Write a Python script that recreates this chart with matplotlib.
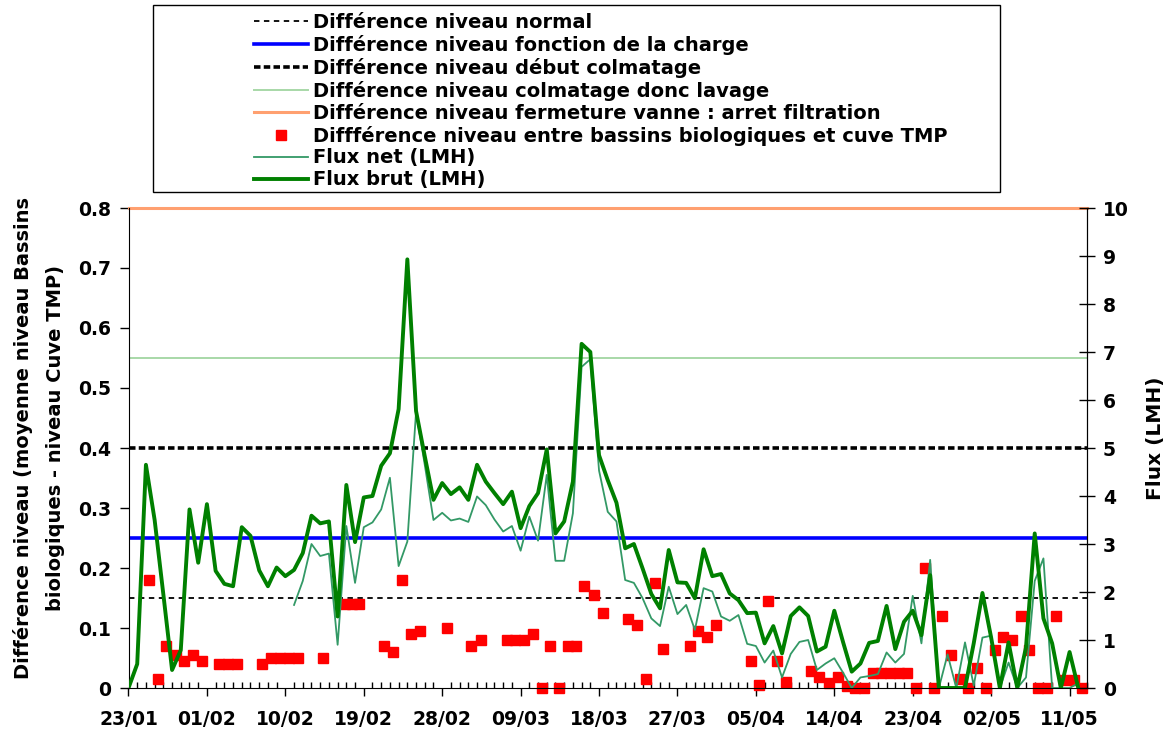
import numpy as np
import pandas as pd
import matplotlib
matplotlib.use("Agg")
import matplotlib.pyplot as plt
import matplotlib.dates as mdates
from matplotlib.patches import Rectangle
from matplotlib.ticker import FixedLocator, FuncFormatter, MultipleLocator

plt.rcParams['font.family'] = ['DejaVu Sans']
plt.rcParams['font.weight'] = 'bold'
plt.rcParams['font.size'] = 13.5

start = pd.Timestamp('2007-01-23')

# seuils (m)
seuil_normal = 0.15
seuil_charge = 0.25
seuil_debut_colmatage = 0.40
seuil_lavage = 0.55
seuil_fermeture = 0.80

# flux brut (LMH), un point par jour depuis le 23/01
flux_brut = [0, 0.5, 4.65, 3.5, 1.95, 0.375, 0.79, 3.72, 2.61, 3.83,
             2.44, 2.17, 2.12, 3.35, 3.17, 2.45, 2.12, 2.51, 2.33, 2.46,
             2.81, 3.59, 3.43, 3.47, 1.49, 4.23, 3.04, 3.97, 4.0, 4.63,
             4.89, 5.81, 8.93, 5.77, 4.83, 3.92, 4.27, 4.04, 4.18, 3.92,
             4.65, 4.30, 4.06, 3.83, 4.09, 3.33, 3.79, 4.06, 4.97, 3.22,
             3.47, 4.30, 7.17, 7.0, 4.85, 4.33, 3.86, 2.91, 3.0, 2.49,
             1.96, 1.66, 2.875, 2.2, 2.19, 1.87, 2.89, 2.33, 2.375, 1.97,
             1.83, 1.56, 1.57, 0.93, 1.29, 0.72, 1.5, 1.68, 1.5, 0.76,
             0.86, 1.61, 0.96, 0.34, 0.51, 0.94, 0.98, 1.71, 0.81, 1.38,
             1.61, 1.1, 2.35, 0, 0, 0, 0, 0.93, 1.98, 1.05,
             0, 0.95, 0, 0.85, 3.22, 1.45, 0.93, 0, 0.75, 0]

# flux net (LMH), a partir du 11/02
flux_net_debut = 19
flux_net = [1.73, 2.23, 3.0, 2.75, 2.80, 0.9, 3.375, 2.19, 3.35, 3.45,
            3.72, 4.38, 2.54, 3.05, 5.75, 4.65, 3.5, 3.65, 3.49, 3.53,
            3.46, 3.99, 3.81, 3.51, 3.26, 3.375, 2.86, 3.57, 3.07, 4.44,
            2.65, 2.65, 3.64, 6.69, 6.85, 4.53, 3.67, 3.47, 2.25, 2.19,
            1.87, 1.45, 1.29, 2.11, 1.54, 1.73, 1.21, 2.08, 2.01, 1.49,
            1.40, 1.52, 0.92, 0.875, 0.53, 0.78, 0.22, 0.71, 0.96, 1.0,
            0.375, 0.51, 0.62, 0.32, 0, 0.22, 0.25, 0.29, 0.74, 0.53,
            0.71, 1.92, 0.93, 2.67, 0, 0.7, 0, 0.95, 0.05, 1.05,
            1.09, 0, 0.53, 0, 0.22, 2.23, 2.70, 0, 0, 0,
            0.1]

# difference de niveau mesuree (jours depuis le 23/01, valeur en m)
mesure_jour = [2.3, 3.4, 4.3, 5.5, 6.4, 7.4, 8.4, 10.4, 11.4, 12.4,
               15.3, 16.4, 17.4, 18.4, 19.4, 22.3, 24.8, 25.6, 26.4, 29.3,
               30.3, 31.4, 32.4, 33.4, 36.5, 39.3, 40.4, 43.4, 44.4, 45.4,
               46.4, 47.4, 48.4, 49.4, 50.4, 51.3, 52.3, 53.4, 54.4, 57.3,
               58.4, 59.4, 60.4, 61.3, 64.4, 65.4, 66.4, 67.4, 71.4, 72.4,
               73.4, 74.4, 75.4, 78.3, 79.3, 80.4, 81.4, 82.4, 83.4, 84.4,
               85.4, 86.4, 87.4, 88.4, 89.4, 90.4, 91.4, 92.4, 93.4, 94.4,
               95.4, 96.4, 97.4, 98.4, 99.4, 100.4, 101.4, 102.4, 103.4, 104.4,
               105.4, 106.4, 107.4, 108.5, 109.4]
mesure_diff = [0.18, 0.015, 0.07, 0.055, 0.045, 0.055, 0.045, 0.04, 0.04, 0.04,
               0.04, 0.05, 0.05, 0.05, 0.05, 0.05, 0.14, 0.14, 0.14, 0.07,
               0.06, 0.18, 0.09, 0.095, 0.1, 0.07, 0.08, 0.08, 0.08, 0.08,
               0.09, 0.0, 0.07, 0.0, 0.07, 0.07, 0.17, 0.155, 0.125, 0.115,
               0.105, 0.015, 0.175, 0.065, 0.07, 0.095, 0.085, 0.105, 0.045, 0.005,
               0.145, 0.045, 0.01, 0.028, 0.019, 0.009, 0.019, 0.004, 0.0, 0.0,
               0.025, 0.025, 0.025, 0.025, 0.025, 0.0, 0.2, 0.0, 0.12, 0.055,
               0.015, 0.0, 0.033, 0.0, 0.063, 0.085, 0.08, 0.12, 0.063, 0.0,
               0.0, 0.12, 0.013, 0.013, 0.0]

nb_jours = 110
tick_pas = 9

jours = start + pd.to_timedelta(np.arange(len(flux_brut)), unit='D')
jours_net = start + pd.to_timedelta(np.arange(flux_net_debut, flux_net_debut + len(flux_net)), unit='D')
jours_mesure = start + pd.to_timedelta(mesure_jour, unit='D')

W, H = 1174, 737
fig = plt.figure(figsize=(W / 100, H / 100), dpi=100)
ax = fig.add_axes([128.5 / W, 1 - 688 / H, (1087 - 128.5) / W, 480 / H])
ax2 = ax.twinx()

ax.axhline(seuil_normal, color='black', lw=1.3, ls=(0, (3, 2.5)), label='Différence niveau normal')
ax.axhline(seuil_charge, color='#0000ff', lw=2.6, label='Différence niveau fonction de la charge')
ax.axhline(seuil_debut_colmatage, color='black', lw=2.6, ls=(0, (1.8, 0.9)), label='Différence niveau début colmatage')
ax.axhline(seuil_lavage, color='#a8d8a8', lw=1.4, label='Différence niveau colmatage donc lavage')
ax.axhline(seuil_fermeture, color='#ffa070', lw=2.2, clip_on=False,
           label='Différence niveau fermeture vanne : arret filtration')
ax.plot(jours_mesure, mesure_diff, 's', color='#ff0000', ms=7.2, ls='none', clip_on=False,
        label='Diffférence niveau entre bassins biologiques et cuve TMP')

ax2.plot(jours_net, flux_net, color='#339966', lw=1.3, label='Flux net (LMH)')
ax2.plot(jours, flux_brut, color='#008000', lw=2.8, label='Flux brut (LMH)')

x0 = mdates.date2num(start)
ax.set_xlim(x0, x0 + nb_jours)
ax.set_ylim(0, 0.8)
ax2.set_ylim(0, 10)

ax.xaxis.set_major_locator(FixedLocator(x0 + np.arange(0, nb_jours, tick_pas)))
ax.xaxis.set_minor_locator(FixedLocator(x0 + np.arange(0, nb_jours + 1)))
ax.xaxis.set_major_formatter(mdates.DateFormatter('%d/%m'))
ax.yaxis.set_major_locator(MultipleLocator(0.1))
ax.yaxis.set_major_formatter(FuncFormatter(lambda v, p: '0' if abs(v) < 1e-9 else f'{v:.1f}'))
ax2.yaxis.set_major_locator(MultipleLocator(1))

ax.tick_params(axis='x', which='major', direction='out', length=6, width=1, pad=10)
ax.tick_params(axis='x', which='minor', direction='in', length=4, width=1)
ax.tick_params(axis='y', direction='out', length=6.5, width=1, pad=6)
ax2.tick_params(axis='y', direction='inout', length=11, width=1, pad=6)

for a in (ax, ax2):
    a.spines['top'].set_visible(False)
ax2.spines['left'].set_visible(False)
ax2.spines['bottom'].set_visible(False)

fig.text(39 / W, 1 - 438 / H, 'Différence niveau (moyenne niveau Bassins\nbiologiques - niveau Cuve TMP)',
         rotation=90, ha='center', va='center', multialignment='center', linespacing=1.9, fontsize=14)
fig.text(1156 / W, 1 - 438 / H, 'Flux (LMH)', rotation=90, ha='center', va='center', fontsize=14.5)

fig.add_artist(Rectangle((153 / W, 1 - 192 / H), (1000 - 153) / W, 187 / H,
                         transform=fig.transFigure, fill=False, ec='black', lw=1))
h1, l1 = ax.get_legend_handles_labels()
h2, l2 = ax2.get_legend_handles_labels()
fig.legend(h1 + h2, l1 + l2, loc='upper left', bbox_to_anchor=(254 / W, 1 - 13 / H),
           frameon=False, borderpad=0, borderaxespad=0, handlelength=2.8,
           handletextpad=0.25, labelspacing=0.15, numpoints=1, fontsize=14)

fig.savefig('out.png', dpi=100)
